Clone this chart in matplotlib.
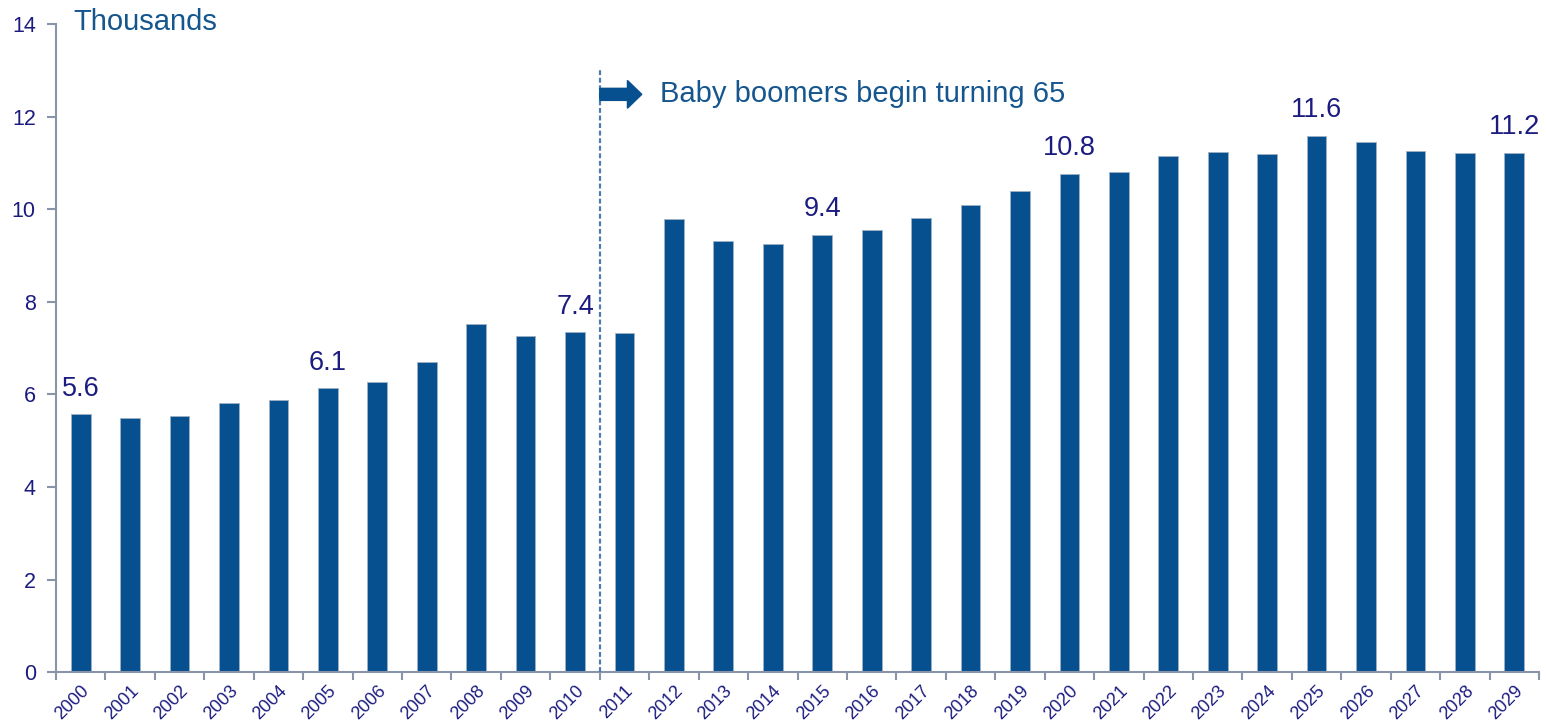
import numpy as np
import matplotlib
matplotlib.use("Agg")
from matplotlib import pyplot as plt
from matplotlib.patches import FancyArrow

plt.rcParams['font.family'] = ['Liberation Sans', 'DejaVu Sans']

# data (thousands)
years = [str(y) for y in range(2000, 2030)]
values = [5.57, 5.50, 5.53, 5.81, 5.87, 6.13, 6.26, 6.70, 7.51, 7.26,
          7.34, 7.32, 9.78, 9.31, 9.24, 9.44, 9.55, 9.80, 10.10, 10.40,
          10.76, 10.81, 11.15, 11.23, 11.20, 11.58, 11.45, 11.25, 11.22, 11.22]
label_years = ['2000', '2005', '2010', '2015', '2020', '2025', '2029']
label_texts = ['5.6', '6.1', '7.4', '9.4', '10.8', '11.6', '11.2']
marker_year = '2011'
marker_text = 'Baby boomers begin turning 65'

bar_color = '#07508f'
navy = '#1c1c80'
blue_txt = '#15568f'
axis_gray = '#8a94a8'

fig = plt.figure(figsize=(15.46, 7.26), dpi=100)
ax = fig.add_axes([0.0362, 0.0740, 0.9593, 0.8930])

x = np.arange(len(years))
ax.bar(x, values, width=0.4, color=bar_color, edgecolor='#9fb0c4', linewidth=0.6, zorder=2)

ax.set_xlim(-0.5, len(years) - 0.5)
ax.set_ylim(0, 14)
ax.set_yticks(np.arange(0, 15, 2))

# value labels above selected bars
for yr, txt in zip(label_years, label_texts):
    i = years.index(yr)
    ax.annotate(txt, (i, values[i]), xytext=(0, 13.5), textcoords='offset points',
                ha='center', va='baseline', fontsize=19.5, color=navy, clip_on=False)

# dashed divider and arrow
xm = years.index(marker_year) - 0.5
ax.plot([xm, xm], [0, 13.05], ls=(0, (2.2, 1.2)), lw=1.6, color='#4f7eab', zorder=3)
ax.add_patch(FancyArrow(xm, 12.48, 0.85, 0, width=0.26, head_width=0.6,
                        head_length=0.29, length_includes_head=True,
                        color=bar_color, zorder=4))
ax.text(xm + 1.22, 12.48, marker_text, fontsize=21, color=blue_txt,
        ha='left', va='center')

ax.text(-0.14, 14.05, 'Thousands', fontsize=21, color=blue_txt,
        ha='left', va='center', clip_on=False)

# axes styling
for s in ['top', 'right']:
    ax.spines[s].set_visible(False)
for s in ['left', 'bottom']:
    ax.spines[s].set_color(axis_gray)
    ax.spines[s].set_linewidth(1.5)

ax.tick_params(axis='y', colors=axis_gray, length=6.5, width=1.5, pad=8,
               labelcolor=navy, labelsize=15.5)
ax.set_xticks(x)
ax.set_xticklabels(years, rotation=45, ha='right', va='top', rotation_mode='anchor')
ax.tick_params(axis='x', which='major', length=0, pad=7.5, labelcolor=navy, labelsize=13)
ax.set_xticks(np.arange(-0.5, len(years), 1), minor=True)
ax.tick_params(axis='x', which='minor', length=5.5, width=1.5, color=axis_gray)

fig.savefig('out.png', dpi=100, facecolor='white')
